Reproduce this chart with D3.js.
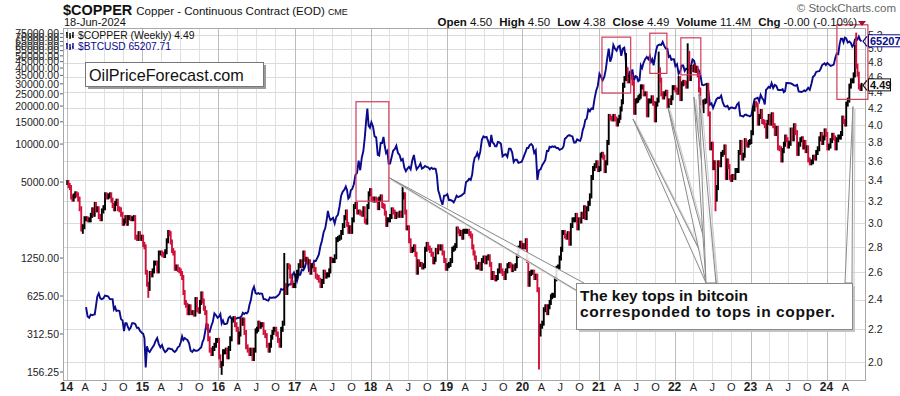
<!DOCTYPE html>
<html>
<head>
<meta charset="utf-8">
<script src="https://cdn.jsdelivr.net/npm/d3@7"></script>
<style>
  body { margin: 0; background: #fff; }
  svg text { font-family: Arial, "Liberation Sans", sans-serif; }
</style>
</head>
<body>
<svg id="chart" width="900" height="396"></svg>
<script>
// weekly closes of copper, one row per month: [month, closes...]
var copperWeekly = [
  ["2014-01",3.38,3.35,3.33,3.24,3.22],["2014-02",3.25,3.27,3.26,3.22],["2014-03",3.13,2.95,2.97,3.04],
  ["2014-04",3.04,3.03,3.03,3.07],["2014-05",3.12,3.08,3.17,3.12,3.13],["2014-06",3.06,3.04,3.11,3.14],
  ["2014-07",3.26,3.24,3.25,3.26],["2014-08",3.21,3.16,3.13,3.18,3.20],["2014-09",3.13,3.12,3.08,3.00],
  ["2014-10",3.02,3.05,3.00,3.05,3.05],["2014-11",3.04,3.04,3.05,2.88],["2014-12",2.87,2.91,2.87,2.88],
  ["2015-01",2.82,2.80,2.60,2.51,2.48],["2015-02",2.59,2.58,2.61,2.67],["2015-03",2.67,2.61,2.75,2.75],
  ["2015-04",2.74,2.73,2.76,2.85],["2015-05",2.92,2.91,2.84,2.77,2.75],["2015-06",2.63,2.64,2.62,2.61],
  ["2015-07",2.59,2.56,2.45,2.38,2.36],["2015-08",2.31,2.35,2.31,2.31],["2015-09",2.30,2.40,2.33,2.32],
  ["2015-10",2.38,2.44,2.39,2.34,2.31],["2015-11",2.22,2.14,2.07,2.05],["2015-12",2.08,2.10,2.13,2.13],
  ["2016-01",2.03,1.98,1.99,2.06,2.06],["2016-02",2.07,2.03,2.08,2.14],["2016-03",2.26,2.27,2.23,2.20],
  ["2016-04",2.12,2.17,2.26,2.24,2.26],["2016-05",2.18,2.09,2.07,2.05],["2016-06",2.07,2.02,2.07,2.19],
  ["2016-07",2.20,2.24,2.22,2.23,2.23],["2016-08",2.18,2.16,2.10,2.07],["2016-09",2.10,2.15,2.18,2.20,2.20],
  ["2016-10",2.17,2.13,2.10,2.20],["2016-11",2.24,2.50,2.45,2.65],["2016-12",2.64,2.57,2.52,2.50,2.50],
  ["2017-01",2.57,2.60,2.65,2.68],["2017-02",2.65,2.75,2.70,2.70],["2017-03",2.68,2.68,2.60,2.65,2.65],
  ["2017-04",2.62,2.57,2.56,2.54],["2017-05",2.50,2.53,2.60,2.57],["2017-06",2.58,2.58,2.61,2.70,2.69],
  ["2017-07",2.69,2.72,2.86,2.87],["2017-08",2.88,2.92,2.98,3.05],["2017-09",3.10,2.99,2.93,2.96,2.93],
  ["2017-10",3.03,3.15,3.17,3.10],["2017-11",3.10,3.09,3.08,3.13],["2017-12",3.02,3.01,3.15,3.27,3.30],
  ["2018-01",3.22,3.21,3.22,3.21],["2018-02",3.14,3.22,3.24,3.16],["2018-03",3.15,3.09,2.99,3.03,3.03],
  ["2018-04",3.06,3.12,3.10,3.06],["2018-05",3.08,3.07,3.09,3.07],["2018-06",3.24,3.26,3.10,2.96,2.96],
  ["2018-07",2.85,2.77,2.78,2.80],["2018-08",2.74,2.60,2.68,2.66,2.66],["2018-09",2.64,2.65,2.78,2.82],
  ["2018-10",2.79,2.77,2.74,2.68],["2018-11",2.70,2.77,2.76,2.80,2.79],["2018-12",2.80,2.75,2.69,2.63],
  ["2019-01",2.65,2.66,2.69,2.78],["2019-02",2.79,2.81,2.95,2.93],["2019-03",2.91,2.92,2.88,2.93,2.93],
  ["2019-04",2.93,2.93,2.91,2.89],["2019-05",2.80,2.75,2.71,2.64,2.64],["2019-06",2.66,2.63,2.69,2.71],
  ["2019-07",2.68,2.71,2.72,2.66],["2019-08",2.56,2.59,2.56,2.55,2.56],["2019-09",2.61,2.65,2.61,2.59],
  ["2019-10",2.56,2.61,2.65,2.66],["2019-11",2.65,2.62,2.64,2.63,2.65],["2019-12",2.73,2.79,2.83,2.80],
  ["2020-01",2.81,2.80,2.85,2.69,2.51],["2020-02",2.59,2.60,2.60,2.56],["2020-03",2.57,2.47,2.17,2.22],
  ["2020-04",2.24,2.33,2.35,2.31],["2020-05",2.35,2.38,2.42,2.43,2.43],["2020-06",2.55,2.63,2.64,2.71],
  ["2020-07",2.78,2.92,2.92,2.89,2.88],["2020-08",2.91,2.83,2.98,3.03],["2020-09",3.03,3.07,2.96,3.03],
  ["2020-10",3.02,3.08,3.06,3.14,3.05],["2020-11",3.13,3.18,3.25,3.43],["2020-12",3.52,3.55,3.58,3.51],
  ["2021-01",3.52,3.66,3.67,3.64,3.50],["2021-02",3.58,3.80,4.10,4.08],["2021-03",4.07,4.10,4.07,4.01],
  ["2021-04",4.05,4.09,4.19,4.28,4.49],["2021-05",4.58,4.70,4.55,4.60],["2021-06",4.60,4.52,4.15,4.29],
  ["2021-07",4.30,4.33,4.35,4.47,4.47],["2021-08",4.38,4.38,4.12,4.29],["2021-09",4.29,4.33,4.26,4.06],
  ["2021-10",4.25,4.30,4.70,4.56,4.38],["2021-11",4.34,4.38,4.40,4.23],["2021-12",4.29,4.27,4.33,4.46,4.46],
  ["2022-01",4.43,4.40,4.58,4.32],["2022-02",4.51,4.53,4.52,4.48],["2022-03",4.93,4.58,4.73,4.70],
  ["2022-04",4.74,4.69,4.72,4.63,4.43],["2022-05",4.27,4.17,4.28,4.29],["2022-06",4.49,4.13,3.74,3.78],
  ["2022-07",3.53,3.58,3.22,3.33,3.58],["2022-08",3.56,3.67,3.69,3.75],["2022-09",3.43,3.60,3.54,3.43,3.41],
  ["2022-10",3.44,3.43,3.50,3.50],["2022-11",3.69,3.80,3.63,3.66],["2022-12",3.82,3.78,3.77,3.80,3.81],
  ["2023-01",3.91,4.19,4.26,4.24],["2023-02",4.02,4.10,4.16,4.04],["2023-03",4.03,3.99,3.87,4.03,4.10],
  ["2023-04",4.02,4.12,3.99,3.90],["2023-05",3.96,3.74,3.73,3.61],["2023-06",3.71,3.78,3.86,3.83,3.76],
  ["2023-07",3.79,3.94,3.84,3.99],["2023-08",3.91,3.68,3.78,3.83],["2023-09",3.84,3.75,3.80,3.71,3.74],
  ["2023-10",3.61,3.58,3.59,3.64],["2023-11",3.63,3.69,3.73,3.84],["2023-12",3.89,3.80,3.85,3.93,3.89],
  ["2024-01",3.74,3.76,3.82,3.88],["2024-02",3.85,3.74,3.83,3.86],["2024-03",3.86,3.90,4.08,4.04,4.01],
  ["2024-04",4.25,4.30,4.48,4.55],["2024-05",4.55,4.63,5.02,4.75,4.64],["2024-06",4.47,4.45,4.49]
];

// intraweek extremes that reach beyond the closes
var copperWicks = [
  ["2014-03-19",2.93],["2015-01-28",2.43],["2016-01-15",1.94],["2016-11-11",2.73],
  ["2018-06-07",3.33],["2020-03-19",1.97],["2021-05-12",4.90],["2021-10-18",4.92],
  ["2022-03-07",5.04],["2022-07-14",3.13],["2024-05-20",5.20]
];

// weekly closes of bitcoin, one row per month
var btcWeekly = [
  ["2014-04",510,430,420,445],["2014-05",440,445,447,525,620],["2014-06",655,600,590,600],
  ["2014-07",630,625,620,590],["2014-08",590,590,490,510,475],["2014-09",480,475,410,400],
  ["2014-10",330,380,380,355,338],["2014-11",350,380,380,375],["2014-12",350,350,330,320],
  ["2015-01",315,290,170,250,230],["2015-02",225,235,245,255],["2015-03",275,290,260,245],
  ["2015-04",255,235,225,230],["2015-05",240,240,237,237,230],["2015-06",225,232,245,250],
  ["2015-07",270,300,280,290,285],["2015-08",280,265,230,225],["2015-09",235,230,230,233],
  ["2015-10",240,245,270,285,325],["2015-11",380,330,325,360],["2015-12",390,455,440,420],
  ["2016-01",430,450,380,400,375],["2016-02",375,380,420,430],["2016-03",410,415,410,415],
  ["2016-04",420,420,430,460],["2016-05",450,460,455,470,530],["2016-06",580,690,740,660],
  ["2016-07",650,660,650,655,650],["2016-08",590,590,580,575],["2016-09",610,605,605,610,605],
  ["2016-10",615,630,650,710],["2016-11",700,710,740,740],["2016-12",770,770,790,920,960],
  ["2017-01",900,820,920,920],["2017-02",1010,1000,1050,1150],["2017-03",1250,1000,1030,1040,1080],
  ["2017-04",1190,1180,1250,1330],["2017-05",1550,1720,2000,2150],["2017-06",2500,2950,2650,2500,2550],
  ["2017-07",2600,2350,2650,2750],["2017-08",3200,3900,4200,4350],["2017-09",4600,4300,3700,3800,4300],
  ["2017-10",4400,4800,5700,5900],["2017-11",7400,6200,7800,8800],["2017-12",11200,15000,19100,14000,13500],
  ["2018-01",14900,13800,11500,11300],["2018-02",8200,8100,10200,10200],["2018-03",11400,9600,8500,8800,7000],
  ["2018-04",7000,7900,8900,9100],["2018-05",9700,8500,8200,7400],["2018-06",7600,6500,6100,6400],
  ["2018-07",6600,6300,7400,8200],["2018-08",7000,6300,6500,6700,7000],["2018-09",6400,6500,6700,6600],
  ["2018-10",6550,6300,6500,6350],["2018-11",6400,6350,5600,4300,4000],["2018-12",3600,3300,3900,3900],
  ["2019-01",4000,3600,3600,3550],["2019-02",3450,3650,3900,3800],["2019-03",3850,3900,4000,4100],
  ["2019-04",5000,5100,5300,5200],["2019-05",5700,7000,7800,8000,8500],["2019-06",7800,8700,10800,11500],
  ["2019-07",11300,11400,10500,9500],["2019-08",11800,10300,10100,9600,9600],["2019-09",10400,10300,10000,8000],
  ["2019-10",8200,8300,7900,9200],["2019-11",9200,8600,7200,7500],["2019-12",7500,7100,7150,7250],
  ["2020-01",7700,8200,8700,9300,9300],["2020-02",9800,10000,9700,8500],["2020-03",8900,5200,6200,6300],
  ["2020-04",6800,7100,7500,8800],["2020-05",8800,9500,9400,9600,9500],["2020-06",9600,9300,9300,9000],
  ["2020-07",9100,9200,9600,11000,11200],["2020-08",11600,11800,11600,11500],["2020-09",10300,10300,10900,10700],
  ["2020-10",10600,11300,12900,13800,15500],["2020-11",15900,18800,18200,19200],["2020-12",19000,23000,26500,29000],
  ["2021-01",36000,34000,32000,34000],["2021-02",39000,48000,57000,45000],["2021-03",49000,61000,57000,55000],
  ["2021-04",59000,60000,50000,57000],["2021-05",58000,49000,36000,35000,37000],["2021-06",35500,39000,32000,34500],
  ["2021-07",34000,31500,32000,42000,40000],["2021-08",44000,47000,49000,47000],["2021-09",50000,45000,47000,42000,48000],
  ["2021-10",55000,60000,61000,61500,61000],["2021-11",64500,60000,57000,57000],["2021-12",49000,50000,46500,47000,47000],
  ["2022-01",41500,43000,36000,37800],["2022-02",42000,42000,38000,39500],["2022-03",39000,38700,41200,46800],
  ["2022-04",45700,40500,39700,38500],["2022-05",35500,29500,29200,29700],["2022-06",29800,26500,20500,21000],
  ["2022-07",19300,20800,22500,23300],["2022-08",23200,24200,21500,20000],["2022-09",19800,20100,18900,19400],
  ["2022-10",19500,19200,19200,20600],["2022-11",21200,16800,16700,16500],["2022-12",17000,17100,16800,16800,16550],
  ["2023-01",16900,19900,22700,23000],["2023-02",23300,21800,24500,23200],["2023-03",22400,20600,26900,27500,28400],
  ["2023-04",27900,30400,27800,29400],["2023-05",28900,26900,26800,26800],["2023-06",27200,25800,26300,30500,30500],
  ["2023-07",30300,30300,29900,29200],["2023-08",29000,29400,26100,26000],["2023-09",25900,26200,26600,26300,26900],
  ["2023-10",27900,26900,29900,34100],["2023-11",35000,37300,37700,37800],["2023-12",39500,42000,43000,43700,42300],
  ["2024-01",43900,42800,41600,42100],["2024-02",42600,47800,52100,51600],["2024-03",62000,68300,68400,64000,69700],
  ["2024-04",68800,63700,64900,63100],["2024-05",59100,61000,67200,69000,67500],["2024-06",71000,66500,65207.71]
];

var btcTicks = [156.25, 312.5, 625, 1250, 5000, 10000, 15000, 20000, 25000, 30000, 35000, 40000,
  45000, 50000, 55000, 60000, 65000, 70000, 75000];
var copperTicks = [2.0, 2.2, 2.4, 2.6, 2.8, 3.0, 3.2, 3.4, 3.6, 3.8, 4.0, 4.2, 4.4, 4.6, 4.8, 5.0, 5.2];
var quoteFields = [["Open", "4.50"], ["High", "4.50"], ["Low", "4.38"], ["Close", "4.49"],
  ["Volume", "11.4M"], ["Chg", "-0.00 (-0.10%)"]];

// highlighted tops: [from, to, copper high, copper low]
var topBoxes = [
  ["2017-10-23", "2018-03-30", 4.28, 3.20],
  ["2021-01-17", "2021-06-04", 5.17, 4.39],
  ["2021-09-04", "2021-11-25", 5.23, 4.65],
  ["2022-01-31", "2022-05-07", 5.16, 4.63],
  ["2024-02-20", "2024-07-18", 5.36, 4.31]
];
// where the callout pointers end: [base, date, copper level]
var calloutTargets = [
  ["left", "2018-03-30", 3.43],
  ["mid", "2021-06-15", 4.07],
  ["mid", "2021-11-30", 4.21],
  ["mid", "2022-04-04", 4.34],
  ["mid", "2022-04-28", 4.38],
  ["right", "2024-05-07", 4.22]
];
var calloutLines = ["The key tops in bitcoin", "corresponded to tops in copper."];

var asOf = new Date(Date.UTC(2024, 5, 21));
var lastCopper = 4.49, lastBtc = 65207.71;

var M = {left: 63, right: 865, top: 28, bottom: 380};
var RED = "#d0103a", NAVY = "#0a0a8c";

var svg = d3.select("#chart");
var parse = d3.utcParse("%Y-%m-%d");
var parseMonth = d3.utcParse("%Y-%m");

var x = d3.scaleUtc()
  .domain([new Date(Date.UTC(2013, 11, 15)), new Date(Date.UTC(2024, 6, 4))])
  .range([M.left, M.right]);
var yCu = d3.scaleLog().domain([1.897, 5.31]).range([M.bottom, M.top]);
var yBtc = d3.scaleLog().domain([135, 83100]).range([M.bottom, M.top]);

// spread each month's weekly values across that month
function toWeeks(rows) {
  var out = [];
  rows.forEach(function(row, ri) {
    var m0 = parseMonth(row[0]);
    var m1 = ri === rows.length - 1 ? asOf : d3.utcMonth.offset(m0, 1);
    var vals = row.slice(1);
    var step = (m1 - m0) / vals.length;
    vals.forEach(function(v, i) {
      out.push({date: new Date(+m0 + step * (i + 0.5)), close: v});
    });
  });
  return out;
}

var copper = toWeeks(copperWeekly);
var btc = toWeeks(btcWeekly);

copper.forEach(function(d, i) {
  var prev = i > 0 ? copper[i - 1].close : d.close;
  d.hi = Math.max(prev, d.close);
  d.lo = Math.min(prev, d.close);
  d.down = d.close < prev;
});
copperWicks.forEach(function(w) {
  var t = parse(w[0]);
  var bar = d3.least(copper, function(d) { return Math.abs(d.date - t); });
  bar.hi = Math.max(bar.hi, w[1]);
  bar.lo = Math.min(bar.lo, w[1]);
});

// ---- grid
var grid = svg.append("g");
var quarters = d3.utcMonth.every(3).range(new Date(Date.UTC(2014, 0, 1)), new Date(Date.UTC(2024, 6, 1)));

grid.selectAll("line.h")
  .data(copperTicks)
  .enter().append("line")
  .attr("x1", M.left).attr("x2", M.right)
  .attr("y1", function(d) { return Math.round(yCu(d)) + 0.5; })
  .attr("y2", function(d) { return Math.round(yCu(d)) + 0.5; })
  .attr("stroke", "#dcdcdc");

grid.selectAll("line.v")
  .data(quarters)
  .enter().append("line")
  .attr("x1", function(d) { return Math.round(x(d)) + 0.5; })
  .attr("x2", function(d) { return Math.round(x(d)) + 0.5; })
  .attr("y1", M.top).attr("y2", M.bottom)
  .attr("stroke", function(d) { return d.getUTCMonth() === 0 ? "#bdbdbd" : "#e0e0e0"; });

svg.append("rect")
  .attr("x", M.left + 0.5).attr("y", M.top + 0.5)
  .attr("width", M.right - M.left).attr("height", M.bottom - M.top)
  .attr("fill", "none").attr("stroke", "#a8a8a8");

// ---- axes
var fmtBtc = d3.format(".2f"), fmtCu = d3.format(".1f");

svg.append("g").selectAll("text")
  .data(btcTicks)
  .enter().append("text")
  .attr("x", 59).attr("y", function(d) { return yBtc(d) + 3.8; })
  .attr("text-anchor", "end")
  .attr("font-size", 10.5).attr("fill", "#222")
  .text(function(d) { return fmtBtc(d); });

svg.append("g").selectAll("line")
  .data(btcTicks)
  .enter().append("line")
  .attr("x1", 60).attr("x2", 63)
  .attr("y1", function(d) { return yBtc(d); }).attr("y2", function(d) { return yBtc(d); })
  .attr("stroke", "#666");

svg.append("g").selectAll("text")
  .data(copperTicks)
  .enter().append("text")
  .attr("x", 868).attr("y", function(d) { return yCu(d) + 3.8; })
  .attr("font-size", 10.5).attr("fill", "#222")
  .text(function(d) { return fmtCu(d); });

var monthLetter = {3: "A", 6: "J", 9: "O"};
svg.append("g").selectAll("text")
  .data(quarters)
  .enter().append("text")
  .attr("x", function(d) { return x(d); })
  .attr("y", 391)
  .attr("text-anchor", "middle")
  .attr("font-size", function(d) { return d.getUTCMonth() === 0 ? 12 : 11; })
  .attr("font-weight", function(d) { return d.getUTCMonth() === 0 ? "bold" : "normal"; })
  .attr("fill", "#222")
  .text(function(d) {
    return d.getUTCMonth() === 0 ? d3.utcFormat("%y")(d) : monthLetter[d.getUTCMonth()];
  });

// ---- series
svg.append("clipPath").attr("id", "plot")
  .append("rect").attr("x", M.left).attr("y", M.top)
  .attr("width", M.right - M.left).attr("height", M.bottom - M.top);

var plot = svg.append("g").attr("clip-path", "url(#plot)");

plot.append("path")
  .datum(btc)
  .attr("d", d3.line().x(function(d) { return x(d.date); }).y(function(d) { return yBtc(d.close); }))
  .attr("fill", "none").attr("stroke", NAVY).attr("stroke-width", 1.9)
  .attr("stroke-linejoin", "miter");

plot.selectAll("line.bar")
  .data(copper)
  .enter().append("line")
  .attr("x1", function(d) { return x(d.date); })
  .attr("x2", function(d) { return x(d.date); })
  .attr("y1", function(d) { return yCu(d.hi) - 2.5; })
  .attr("y2", function(d) { return yCu(d.lo) + 2.5; })
  .attr("stroke", function(d) { return d.down ? RED : "#000"; })
  .attr("stroke-width", 1.9);

// ---- highlighted tops
svg.append("g").selectAll("rect")
  .data(topBoxes)
  .enter().append("rect")
  .attr("x", function(d) { return x(parse(d[0])); })
  .attr("y", function(d) { return yCu(d[2]); })
  .attr("width", function(d) { return x(parse(d[1])) - x(parse(d[0])); })
  .attr("height", function(d) { return yCu(d[3]) - yCu(d[2]); })
  .attr("fill", "none").attr("stroke", "#d33a5a").attr("stroke-width", 1.2);

// ---- callout
var box = {x: 576, y: 283, w: 276, h: 46};
var bases = {
  left: [[584, box.y], [box.x, box.y + 7]],
  mid: [[706, box.y], [716, box.y]],
  right: [[845, box.y], [box.x + box.w, box.y]]
};
var callout = svg.append("g");

function wedge(d, dx) {
  var b = bases[d[0]];
  var tx = x(parse(d[1])) + dx, ty = yCu(d[2]) + dx;
  return "M" + tx + "," + ty + "L" + (b[0][0] + dx) + "," + (b[0][1] + dx) +
    "L" + (b[1][0] + dx) + "," + (b[1][1] + dx) + "Z";
}

callout.selectAll("path.shadow")
  .data(calloutTargets)
  .enter().append("path")
  .attr("d", function(d) { return wedge(d, 2); })
  .attr("fill", "none").attr("stroke", "#cfcfcf").attr("stroke-width", 1.2);

callout.append("rect")
  .attr("x", box.x + 3).attr("y", box.y + 3).attr("width", box.w).attr("height", box.h)
  .attr("fill", "#c4c4c4");

callout.selectAll("path.wedge")
  .data(calloutTargets)
  .enter().append("path")
  .attr("d", function(d) { return wedge(d, 0); })
  .attr("fill", "#fff").attr("fill-opacity", 0.85)
  .attr("stroke", "#8a8a8a").attr("stroke-width", 1);

callout.append("rect")
  .attr("x", box.x + 0.5).attr("y", box.y + 0.5).attr("width", box.w).attr("height", box.h)
  .attr("fill", "#fff").attr("stroke", "#8a8a8a");

callout.selectAll("text")
  .data(calloutLines)
  .enter().append("text")
  .attr("x", box.x + 4).attr("y", function(d, i) { return box.y + 18 + i * 15.5; })
  .attr("font-size", 15.5).attr("font-weight", "bold").attr("fill", "#111")
  .attr("letter-spacing", function(d, i) { return i ? 0.6 : 0; })
  .text(function(d) { return d; });

// ---- watermark box
var wm = svg.append("g");
wm.append("rect").attr("x", 88).attr("y", 65).attr("width", 178).attr("height", 24).attr("fill", "#9a9a9a");
wm.append("rect").attr("x", 85.5).attr("y", 62.5).attr("width", 178).attr("height", 24)
  .attr("fill", "#fff").attr("stroke", "#777");
wm.append("text").attr("x", 89).attr("y", 80.5)
  .attr("font-size", 16.2).attr("fill", "#111")
  .text("OilPriceForecast.com");

// ---- legend
function icon(g, x0, y0, color) {
  g.append("path")
    .attr("d", "M" + (x0 + 1) + "," + y0 + "v6M" + x0 + "," + (y0 + 1) + "h1M" + (x0 + 4) + "," + (y0 + 1) + "v6M" +
      (x0 + 4) + "," + (y0 + 5) + "h1M" + (x0 + 7) + "," + y0 + "v6M" + (x0 + 6) + "," + (y0 + 4) + "h1")
    .attr("stroke", color).attr("stroke-width", 1.4).attr("fill", "none");
}
var legend = svg.append("g");
icon(legend, 66, 32, "#000");
icon(legend, 66, 43, NAVY);
legend.append("text").attr("x", 78).attr("y", 38.5)
  .attr("font-family", "'DejaVu Sans Mono', monospace").attr("font-size", 10.4).attr("fill", "#111")
  .text("$COPPER (Weekly) " + lastCopper.toFixed(2));
legend.append("text").attr("x", 78).attr("y", 49.5)
  .attr("font-size", 10.2).attr("fill", NAVY)
  .text("$BTCUSD " + lastBtc.toFixed(2));

// ---- last value tags
function tag(y, w, color, label) {
  var g = svg.append("g");
  g.append("path").attr("d", "M867," + (y - 5) + "L863," + y + "L867," + (y + 5))
    .attr("fill", "none").attr("stroke", color).attr("stroke-width", 1.2);
  g.append("rect").attr("x", 868.5).attr("y", y - 6.5).attr("width", w).attr("height", 12)
    .attr("fill", "#fff").attr("stroke", color);
  g.append("text").attr("x", 870).attr("y", y + 4)
    .attr("font-size", 11).attr("font-weight", "bold").attr("fill", color).text(label);
}
tag(yBtc(lastBtc), 40, NAVY, lastBtc.toFixed(2));
tag(yCu(lastCopper), 22, "#111", lastCopper.toFixed(2));

// ---- header
var head = svg.append("text").attr("x", 63).attr("y", 14.5).attr("fill", "#111");
head.append("tspan").attr("font-size", 14.5).attr("font-weight", "bold").text("$COPPER");
head.append("tspan").attr("font-size", 11.5).attr("dx", 4).text("Copper - Continuous Contract (EOD)");
head.append("tspan").attr("font-size", 9).attr("dx", 3).text("CME");

svg.append("text").attr("x", 64).attr("y", 26).attr("font-size", 11).attr("fill", "#111").text("18-Jun-2024");

var quote = svg.append("text").attr("x", 857).attr("y", 26)
  .attr("text-anchor", "end").attr("font-size", 11.5).attr("fill", "#111");
quoteFields.forEach(function(q, i) {
  quote.append("tspan").attr("font-weight", "bold").attr("dx", i ? 7 : 0).text(q[0]);
  quote.append("tspan").attr("dx", 3).text(q[1]);
});
svg.append("path").attr("d", "M858,21L866,21L862,26Z").attr("fill", "#a3102a");

svg.append("text").attr("x", 896).attr("y", 12).attr("text-anchor", "end")
  .attr("font-size", 11.5).attr("fill", "#666").text("\u00a9 StockCharts.com");
</script>
</body>
</html>
